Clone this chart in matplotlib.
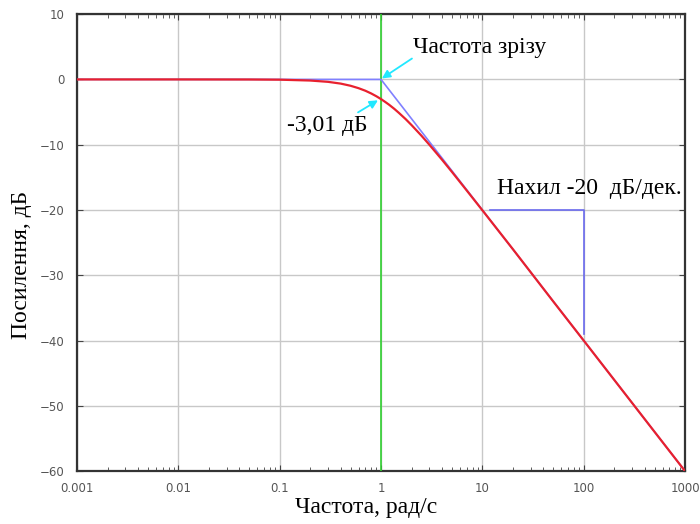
import numpy as np
import matplotlib.pyplot as plt
from matplotlib.ticker import LogLocator, FixedLocator, NullLocator

# frequency response (rad/s, dB)
freq = [0.001, 0.01, 0.05, 0.1, 0.2, 0.3, 0.4, 0.5, 0.6, 0.7, 0.8, 0.9, 1.0,
        1.1, 1.2, 1.35, 1.5, 1.75, 2.0, 2.5, 3.0, 4.0, 5.0, 7.0, 10.0,
        20.0, 50.0, 100.0, 1000.0]
gain = [0.0, 0.0, -0.01, -0.04, -0.17, -0.37, -0.64, -0.97, -1.34, -1.73,
        -2.15, -2.58, -3.01, -3.45, -3.87, -4.5, -5.12, -6.08, -6.99, -8.6,
        -10.0, -12.3, -14.15, -17.0, -20.04, -26.0, -34.0, -40.0, -60.0]

# straight-line asymptote
asym_freq = [0.001, 1.0, 1000.0]
asym_gain = [0.0, 0.0, -60.0]

# slope marker
slope_freq = [12.0, 100.0, 100.0]
slope_gain = [-20.0, -20.0, -39.0]

cutoff = 1.0
xticks = [0.001, 0.01, 0.1, 1, 10, 100, 1000]
xticklabels = ['0.001', '0.01', '0.1', '1', '10', '100', '1000']
yticks = [10, 0, -10, -20, -30, -40, -50, -60]

serif = 'Liberation Serif'

fig = plt.figure(figsize=(7, 5.24), dpi=100)
ax = fig.add_axes([0.11, 0.101, 0.8686, 0.872])

ax.set_xscale('log')
ax.set_xlim(0.001, 1000)
ax.set_ylim(-60, 10)
ax.grid(True, which='major', color='#c8c8c8', linewidth=1.0)

ax.axvline(cutoff, color='#30d030', linewidth=1.2, zorder=3)
ax.plot(asym_freq, asym_gain, color='#8080ff', linewidth=1.2, zorder=3)
ax.plot(slope_freq, slope_gain, color='#6a6aee', linewidth=1.2, zorder=3)
ax.plot(freq, gain, color='#e8202e', linewidth=1.6, zorder=4)

ax.xaxis.set_major_locator(FixedLocator(xticks))
ax.set_xticklabels(xticklabels)
ax.xaxis.set_minor_locator(LogLocator(base=10, subs=np.arange(2, 10), numticks=20))
ax.yaxis.set_major_locator(FixedLocator(yticks))
ax.yaxis.set_minor_locator(NullLocator())
ax.tick_params(which='both', direction='in', top=True, right=True,
               labelsize=8.5, labelcolor='#555555', color='#444444')
ax.tick_params(axis='x', which='major', length=4, pad=8)
ax.tick_params(axis='y', which='major', length=4, pad=9)
ax.tick_params(which='minor', length=3)
for s in ax.spines.values():
    s.set_linewidth(1.6)
    s.set_color('#333333')

fig.text(366 / 700, 1 - 507 / 524, 'Частота, рад/с', family=serif,
         fontsize=17, ha='center', va='center')
fig.text(22 / 700, 1 - 265 / 524, 'Посилення, дБ', family=serif,
         fontsize=17, ha='center', va='center', rotation=90)

arrow = dict(arrowstyle='-|>', color='#22e8ff', linewidth=1.3,
             mutation_scale=12, shrinkA=0, shrinkB=0)
ax.annotate('', xy=(1.02, 0.15), xytext=(2.02, 3.2), arrowprops=arrow,
            zorder=5)
ax.annotate('', xy=(0.933, -3.2), xytext=(0.593, -5.05), arrowprops=arrow,
            zorder=5)
ax.text(2.07, 4.9, 'Частота зрізу', family=serif, fontsize=17,
        va='center', ha='left', zorder=5)
ax.text(0.118, -7.0, '-3,01 дБ', family=serif, fontsize=17,
        va='center', ha='left', zorder=5)
ax.text(13.96, -16.7, 'Нахил -20  дБ/дек.', family=serif, fontsize=17,
        va='center', ha='left', zorder=5)

fig.savefig('out.png', dpi=100)
